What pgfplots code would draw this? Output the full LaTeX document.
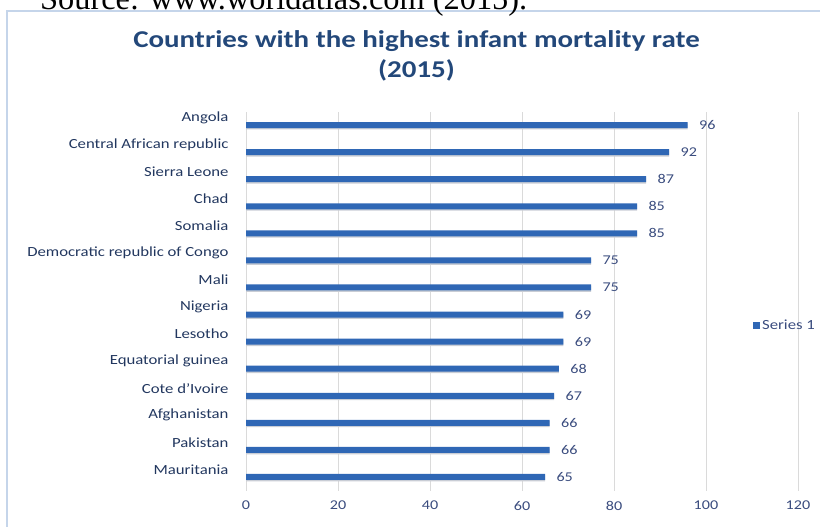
\documentclass[border=0pt]{standalone}
\usepackage{fontspec}
\setmainfont[FakeStretch=1.2]{Carlito}
\newfontfamily\srcfont{Liberation Serif}
\usepackage{pgfplots}
\pgfplotsset{compat=1.18}
\definecolor{barblue}{HTML}{2F67B5}
\definecolor{shadowgray}{HTML}{C9CDD5}
\definecolor{titleblue}{HTML}{23487A}
\definecolor{catblue}{HTML}{22375F}
\definecolor{numblue}{HTML}{3A4C7E}
\definecolor{gridgray}{HTML}{DADADA}
\definecolor{frameblue}{HTML}{C5D5EA}
\begin{document}
\begin{tikzpicture}
\useasboundingbox (0,0) rectangle (820bp,-527bp);
\draw[frameblue, line width=1.2bp] (7bp,-560bp) -- (7bp,-11bp) -- (840bp,-11bp);
\node[anchor=base west, font=\srcfont\fontsize{32.5}{36}\selectfont, inner sep=0pt] at (40bp,-9bp) {Source: www.worldatlas.com (2015).};
\node[anchor=base, inner sep=0pt, font=\bfseries\fontsize{24.2}{28}\selectfont, text=titleblue] at (416.5bp,-47.5bp) {Countries with the highest infant mortality rate};
\node[anchor=base, inner sep=0pt, font=\bfseries\fontsize{24.2}{28}\selectfont, text=titleblue] at (416.5bp,-77.5bp) {(2015)};
\begin{axis}[
  scale only axis, width=552bp, height=379bp,
  at={(246bp,-490.5bp)}, anchor=south west,
  xbar, bar width=6bp,
  xmin=0, xmax=120, ymin=-0.5, ymax=13.5,
  xtick={0,20,...,120},
  ytick={0,...,13},
  yticklabels={Mauritania, Pakistan, Afghanistan, Cote d’Ivoire, Equatorial guinea, Lesotho, Nigeria, Mali, Democratic republic of Congo, Somalia, Chad, Sierra Leone, Central African republic, Angola},
  xmajorgrids, grid style={gridgray, line width=0.8bp},
  axis line style={draw=none},
  tick style={draw=none},
  major tick length=0pt,
  yticklabel style={font=\fontsize{14}{16}\selectfont, text=catblue, xshift=-14bp, yshift=7.5bp},
  xticklabel style={font=\fontsize{13.5}{16}\selectfont, text=numblue, yshift=-7bp},
  /pgf/number format/assume math mode=true,
  legend style={draw=none, fill=none, at={(0.912,0.435)}, anchor=west, font=\fontsize{14}{16}\selectfont, text=numblue},
  legend image code/.code={\fill[barblue] (0bp,-3.5bp) rectangle (7.5bp,3.5bp);},
]
\addplot[fill=shadowgray, draw=none, bar shift=-1.4bp, forget plot] coordinates {
(65,0) (66,1) (66,2) (67,3) (68,4) (69,5) (69,6) (75,7) (75,8) (85,9) (85,10) (87,11) (92,12) (96,13)
};
\addplot[fill=barblue, draw=none, bar shift=0pt,
  nodes near coords,
  nodes near coords style={font=\fontsize{13.5}{16}\selectfont, text=numblue, anchor=west, xshift=8bp}] coordinates {
(65,0) (66,1) (66,2) (67,3) (68,4) (69,5) (69,6) (75,7) (75,8) (85,9) (85,10) (87,11) (92,12) (96,13)
};
\addlegendentry{Series 1}
\end{axis}
\end{tikzpicture}
\end{document}
